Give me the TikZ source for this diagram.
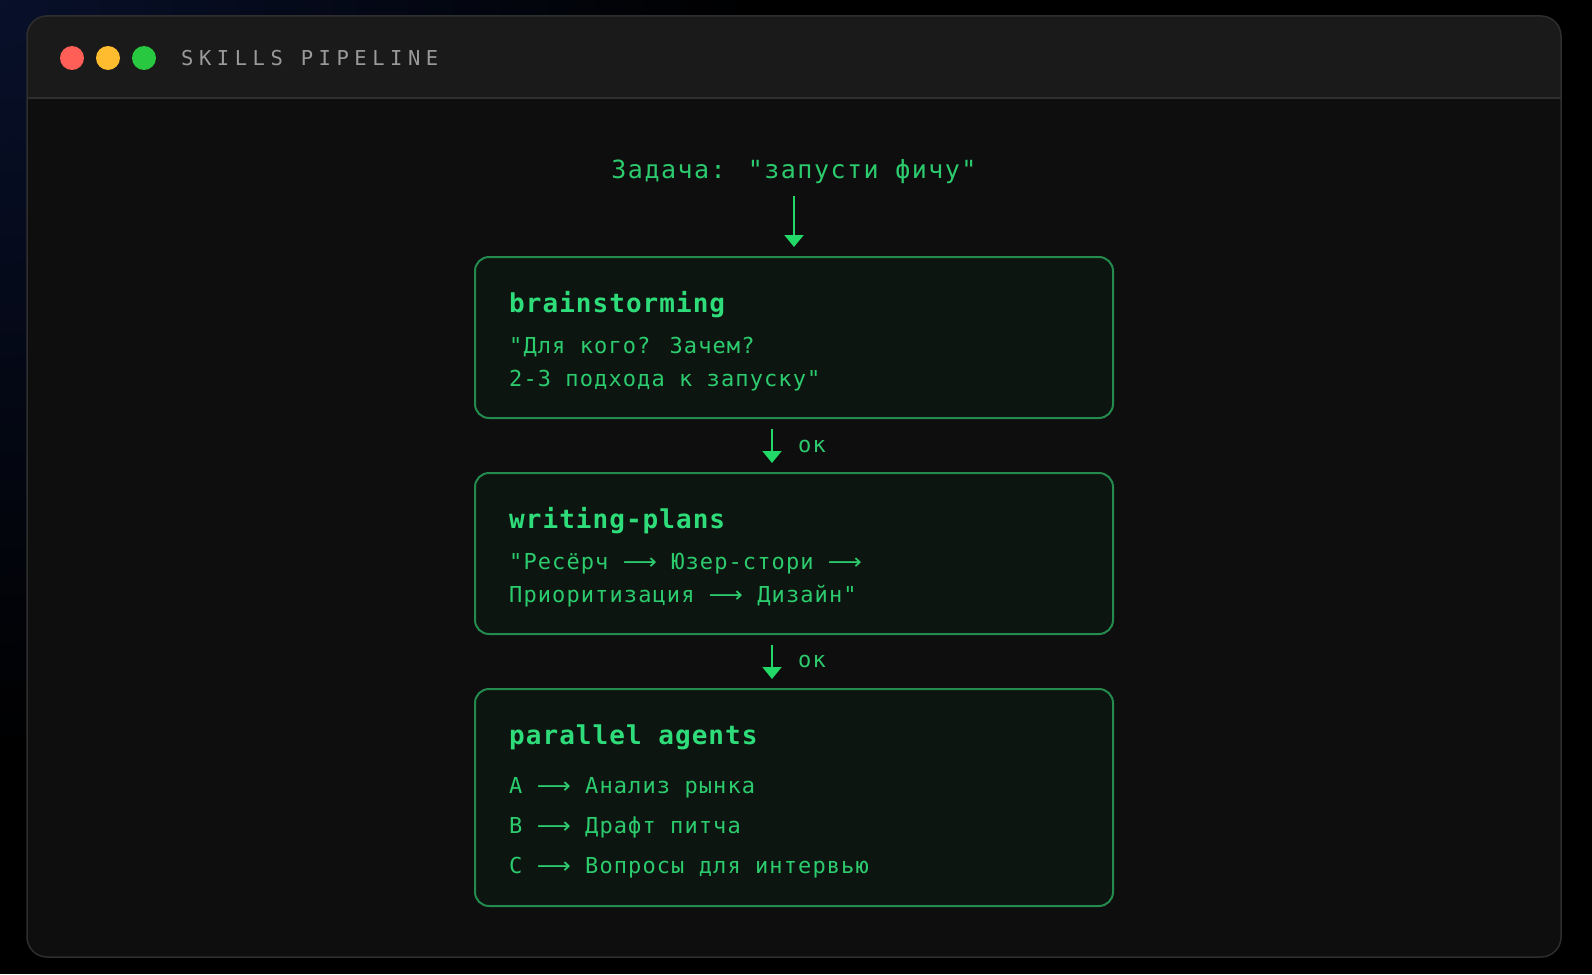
\documentclass[tikz,border=0pt]{standalone}
\usepackage{fontspec}
\usepackage{graphicx}
\usetikzlibrary{arrows,arrows.meta,positioning}
\newfontfamily\bodyfont[LetterSpace=5]{DejaVu Sans Mono}
\newfontfamily\headfont[LetterSpace=4]{DejaVu Sans Mono}
\newfontfamily\taskfont[LetterSpace=6]{DejaVu Sans Mono}
\newfontfamily\barfont[LetterSpace=27]{DejaVu Sans Mono}
\newfontfamily\arrowglyph{DejaVu Sans}
\newcommand\lar{{\arrowglyph\scalebox{1.08}[1]{⟶}}}
\definecolor{bgnavy}{HTML}{08102A}
\definecolor{winbody}{HTML}{0E0E0E}
\definecolor{winbar}{HTML}{1A1A1A}
\definecolor{winedge}{HTML}{2E2E2E}
\definecolor{boxfill}{HTML}{0C150F}
\definecolor{boxedge}{HTML}{248A4E}
\definecolor{headgreen}{HTML}{2FDC7A}
\definecolor{textgreen}{HTML}{2CCB6E}
\definecolor{arrowgreen}{HTML}{22D866}
\definecolor{titlegray}{HTML}{9A9A9A}
\definecolor{dotred}{HTML}{FF5F57}
\definecolor{dotyellow}{HTML}{FEBC2E}
\definecolor{dotgreen}{HTML}{28C840}
\tikzset{
  stagebox/.style={draw=boxedge,line width=2pt,fill=boxfill,rounded corners=14pt,
    minimum width=638pt,inner sep=0pt},
  heading/.style={anchor=base west,inner sep=0pt,text=headgreen,
    font=\headfont\bfseries\fontsize{26}{30}\selectfont},
  bodyline/.style={anchor=base west,inner sep=0pt,text=textgreen,
    font=\bodyfont\fontsize{22}{26}\selectfont},
  flow/.style={draw=arrowgreen,line width=2pt,-{Triangle[width=19pt,length=12pt]}}
}
\begin{document}
\begin{tikzpicture}[x=1pt,y=-1pt]
\useasboundingbox (0,0) rectangle (1592,974);
% backdrop
\fill[black] (0,0) rectangle (1592,974);
\begin{scope}
\clip (0,0) rectangle (1592,974);
\shade[inner color=bgnavy,outer color=black] (0,0) circle (760pt);
\end{scope}
% window
\fill[winbody,rounded corners=20pt] (27,16) rectangle (1561,957);
\begin{scope}
\clip[rounded corners=20pt] (27,16) rectangle (1561,957);
\fill[winbar] (27,16) rectangle (1561,98);
\end{scope}
\draw[winedge,line width=1.5pt] (27,98) -- (1561,98);
\draw[winedge,line width=1.5pt,rounded corners=20pt] (27,16) rectangle (1561,957);
\foreach \c/\x in {dotred/72,dotyellow/108,dotgreen/144}
  \fill[\c] (\x,58) circle (12pt);
\path (181,65.5) node(bartitle)[anchor=base west,inner sep=0pt,text=titlegray,
  font=\barfont\fontsize{20.5}{24}\selectfont] {SKILLS PIPELINE};
% task
\path (794,178) node(task)[anchor=base,inner sep=0pt,text=textgreen,
  font=\taskfont\fontsize{25}{30}\selectfont] {Задача: "запусти фичу"};
% stages
\path (794,337.5) node(brain)[stagebox,minimum height=161pt] {};
\path (794,553.5) node(plans)[stagebox,minimum height=161pt] {};
\path (794,797.5) node(agents)[stagebox,minimum height=217pt] {};
\path (509,312.7) node(brainhead)[heading] {brainstorming};
\path (509,353) node(brainone)[bodyline] {"Для кого? Зачем?};
\path (509,386) node(braintwo)[bodyline] {2-3 подхода к запуску"};
\path (509,528.7) node(planshead)[heading] {writing-plans};
\path (509,569) node(plansone)[bodyline] {"Ресёрч \lar{} Юзер-стори \lar};
\path (509,602) node(planstwo)[bodyline] {Приоритизация \lar{} Дизайн"};
\path (509,744.7) node(agentshead)[heading] {parallel agents};
\path (509,793.5) node(agenta)[bodyline] {A \lar{} Анализ рынка};
\path (509,833) node(agentb)[bodyline] {B \lar{} Драфт питча};
\path (509,873.5) node(agentc)[bodyline] {C \lar{} Вопросы для интервью};
% connectors
\draw[flow,shorten <=13pt,shorten >=9pt] (task.south) -- (brain.north);
\draw[flow,shorten <=10pt,shorten >=9pt] ([xshift=-22pt]brain.south) -- ([xshift=-22pt]plans.north);
\draw[flow,shorten <=10pt,shorten >=9pt] ([xshift=-22pt]plans.south) -- ([xshift=-22pt]agents.north);
\path (798,452.5) node(okone)[bodyline] {ок};
\path (798,667.5) node(oktwo)[bodyline] {ок};
\end{tikzpicture}
\end{document}
